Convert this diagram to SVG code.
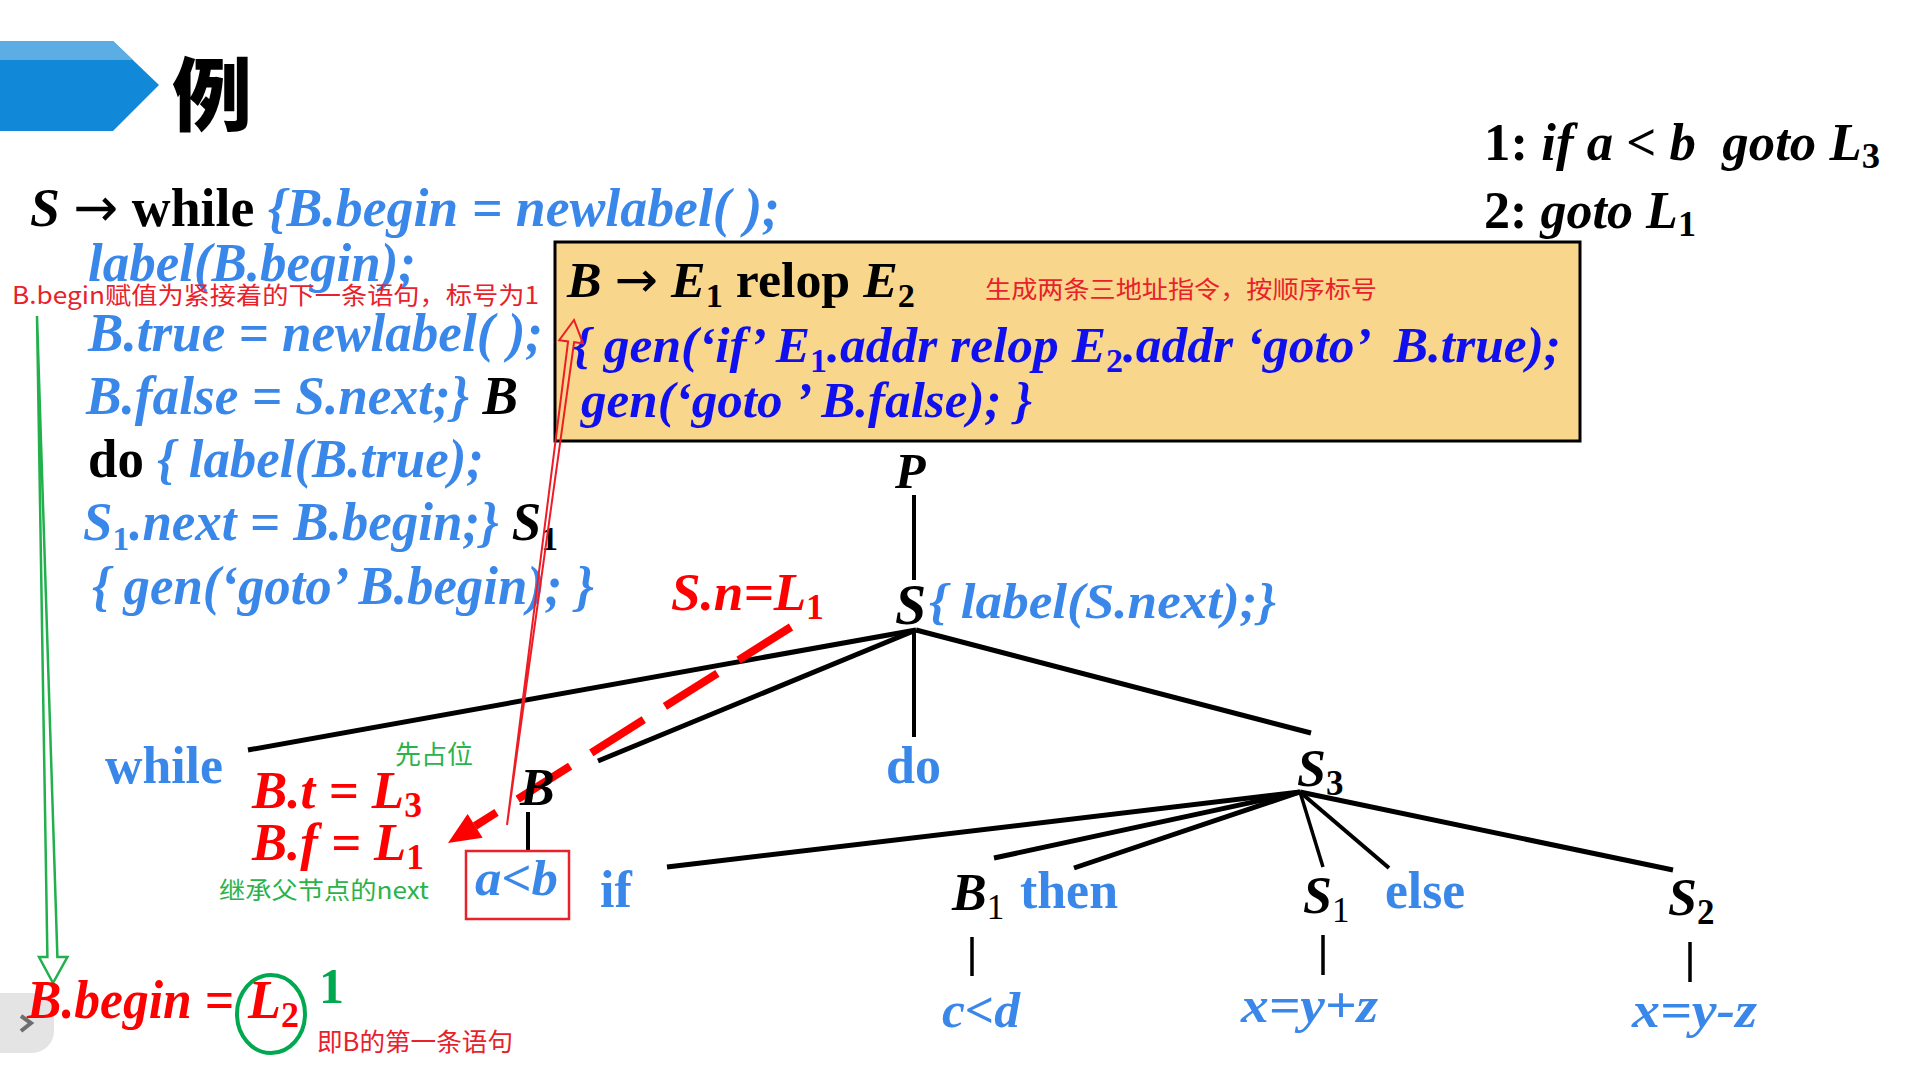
<svg xmlns="http://www.w3.org/2000/svg" width="1920" height="1080" viewBox="0 0 1920 1080">
<style>
.ser{font-family:"Liberation Serif","Times New Roman",serif;font-weight:bold;white-space:pre}
.it{font-style:italic}
.up{font-style:normal}
.arr{font-family:"DejaVu Sans",sans-serif;font-weight:normal;font-style:normal}
.lb{fill:#3A87EA}
.db{fill:#1010EE}
.bk{fill:#000}
.rd{fill:#FF0000}
.cjk{font-family:"Noto Sans CJK SC","Noto Sans",sans-serif;white-space:pre}
.note-r{fill:#E8212B}
.note-g{fill:#2BB34A}
.edge{stroke:#000;stroke-linecap:butt;fill:none}
</style>
<rect width="1920" height="1080" fill="#fff"/>
<g id="nav">
<rect x="-30" y="993" width="84" height="60" rx="22" fill="#E4E4E4"/>
<polyline points="21,1016 31,1023 21,1031" fill="none" stroke="#6E6E6E" stroke-width="4"/>
</g>
<g id="header">
<polygon points="0,41 113,41 159,85 113,131 0,131" fill="#1289D8"/>
<polygon points="0,41 113,41 133,60 0,60" fill="#5BADE3"/>
<text x="172" y="124" class="cjk" font-size="80" font-weight="900" fill="#000">例</text>
</g>
<g id="code" class="ser" font-size="54">
<text x="30" y="226" textLength="750" lengthAdjust="spacingAndGlyphs" class="ser bk"><tspan class="it">S</tspan> <tspan class="arr">→</tspan> while <tspan class="it lb">{B.begin = newlabel( );</tspan></text>
<text x="88" y="281" textLength="328" lengthAdjust="spacingAndGlyphs" class="ser it lb">label(B.begin);</text>
<text x="88" y="351" textLength="455" lengthAdjust="spacingAndGlyphs" class="ser it lb">B.true = newlabel( );</text>
<text x="86" y="414" textLength="432" lengthAdjust="spacingAndGlyphs" class="ser it lb">B.false = S.next;} <tspan class="bk">B</tspan></text>
<text x="88" y="477" textLength="396" lengthAdjust="spacingAndGlyphs" class="ser"><tspan class="up bk">do</tspan><tspan class="it lb"> { label(B.true);</tspan></text>
<text x="83" y="540" textLength="475" lengthAdjust="spacingAndGlyphs" class="ser it lb">S<tspan class="up" font-size="34" dy="10">1</tspan><tspan dy="-10">.next = B.begin;} </tspan><tspan class="bk">S</tspan><tspan class="up bk" font-size="34" dy="10">1</tspan></text>
<text x="92" y="604" textLength="502" lengthAdjust="spacingAndGlyphs" class="ser it lb">{ gen(‘goto’ B.begin); }</text>
<text x="12" y="304" textLength="527" lengthAdjust="spacingAndGlyphs" class="cjk note-r" font-size="24" font-weight="normal">B.begin赋值为紧接着的下一条语句，标号为1</text>
</g>
<g id="rule-box">
<rect x="555" y="242" width="1025" height="199" fill="#F8D68C" stroke="#000" stroke-width="3"/>
<text x="567" y="297" textLength="348" lengthAdjust="spacingAndGlyphs" class="ser bk" font-size="50"><tspan class="it">B</tspan> <tspan class="arr">→</tspan> <tspan class="it">E</tspan><tspan font-size="33" dy="10">1</tspan><tspan dy="-10"> relop </tspan><tspan class="it">E</tspan><tspan font-size="33" dy="10">2</tspan></text>
<text x="985" y="298" textLength="392" lengthAdjust="spacingAndGlyphs" class="cjk note-r" font-size="24">生成两条三地址指令，按顺序标号</text>
<text x="573" y="362" textLength="988" lengthAdjust="spacingAndGlyphs" class="ser it db" font-size="50">{ gen(‘if’ E<tspan class="up" font-size="33" dy="10">1</tspan><tspan dy="-10">.addr relop E</tspan><tspan class="up" font-size="33" dy="10">2</tspan><tspan dy="-10">.addr ‘goto’  B.true);</tspan></text>
<text x="581" y="417" textLength="451" lengthAdjust="spacingAndGlyphs" class="ser it db" font-size="50">gen(‘goto ’ B.false); }</text>
</g>
<g id="tac">
<text x="1484" y="160" textLength="396" lengthAdjust="spacingAndGlyphs" class="ser bk" font-size="52">1: <tspan class="it">if a &lt; b  goto L</tspan><tspan font-size="36" dy="8">3</tspan></text>
<text x="1484" y="228" textLength="212" lengthAdjust="spacingAndGlyphs" class="ser bk" font-size="52">2: <tspan class="it">goto L</tspan><tspan font-size="36" dy="8">1</tspan></text>
</g>
<g id="connectors">
<line class="edge" x1="914" y1="495" x2="914" y2="580" stroke-width="4"/>
<line class="edge" x1="916" y1="630" x2="248" y2="750" stroke-width="5"/>
<line class="edge" x1="916" y1="630" x2="598" y2="761" stroke-width="5"/>
<line class="edge" x1="914" y1="630" x2="914" y2="737" stroke-width="4"/>
<line class="edge" x1="916" y1="630" x2="1311" y2="733" stroke-width="5"/>
<line class="edge" x1="528" y1="812" x2="528" y2="851" stroke-width="4"/>
<line class="edge" x1="1300" y1="792" x2="667" y2="867" stroke-width="5"/>
<line class="edge" x1="1300" y1="792" x2="994" y2="858" stroke-width="5"/>
<line class="edge" x1="1300" y1="792" x2="1074" y2="868" stroke-width="5"/>
<line class="edge" x1="1300" y1="792" x2="1323" y2="867" stroke-width="3.5"/>
<line class="edge" x1="1300" y1="792" x2="1389" y2="868" stroke-width="4"/>
<line class="edge" x1="1300" y1="792" x2="1673" y2="870" stroke-width="5"/>
<line class="edge" x1="972" y1="937" x2="972" y2="976" stroke-width="3.5"/>
<line class="edge" x1="1323" y1="935" x2="1323" y2="975" stroke-width="3.5"/>
<line class="edge" x1="1690" y1="942" x2="1690" y2="982" stroke-width="3.5"/>
<line x1="791" y1="627" x2="475" y2="826" stroke="#FF0000" stroke-width="8" stroke-dasharray="62 25"/>
<polygon points="448,843 482.6,837.8 467.6,814" fill="#FF0000"/>
<polygon points="507,825 574.1,342.2 583,343.4 574,320 559.2,340.2 568.1,341.4" fill="none" stroke="#EE1C25" stroke-width="2"/>
<polygon points="37,316 57.4,957 67.4,957 53,983 39,957 47.4,957" fill="none" stroke="#22B04C" stroke-width="2.5"/>
</g>
<g id="node-P"><text x="895" y="488" class="ser it bk" font-size="50">P</text></g>
<g id="node-S"><text x="895" y="624" class="ser it bk" font-size="56">S</text><text x="929" y="618" textLength="347" lengthAdjust="spacingAndGlyphs" class="ser it lb" font-size="50">{ label(S.next);}</text></g>
<g id="node-while"><text x="105" y="783" textLength="118" lengthAdjust="spacingAndGlyphs" class="ser lb" font-size="52">while</text></g>
<g id="node-B"><text x="520" y="805" class="ser it bk" font-size="52">B</text></g>
<g id="node-ab"><rect x="466" y="851" width="103" height="68" fill="none" stroke="#E8212B" stroke-width="2.5"/><text x="475" y="895" textLength="83" lengthAdjust="spacingAndGlyphs" class="ser it lb" font-size="50">a&lt;b</text></g>
<g id="node-if"><text x="600" y="907" class="ser lb" font-size="52">if</text></g>
<g id="node-do"><text x="886" y="783" class="ser lb" font-size="52">do</text></g>
<g id="node-S3"><text x="1297" y="786" class="ser it bk" font-size="52">S<tspan class="up" font-size="35" dy="9">3</tspan></text></g>
<g id="node-B1"><text x="952" y="910" class="ser it bk" font-size="52">B<tspan class="up" font-size="35" dy="9" font-weight="normal">1</tspan></text></g>
<g id="node-then"><text x="1020" y="908" textLength="98" lengthAdjust="spacingAndGlyphs" class="ser lb" font-size="52">then</text></g>
<g id="node-S1"><text x="1303" y="913" class="ser it bk" font-size="52">S<tspan class="up" font-size="35" dy="9" font-weight="normal">1</tspan></text></g>
<g id="node-else"><text x="1385" y="908" textLength="80" lengthAdjust="spacingAndGlyphs" class="ser lb" font-size="52">else</text></g>
<g id="node-S2"><text x="1668" y="915" class="ser it bk" font-size="52">S<tspan class="up" font-size="35" dy="9">2</tspan></text></g>
<g id="node-cd"><text x="942" y="1027" textLength="78" lengthAdjust="spacingAndGlyphs" class="ser it lb" font-size="50">c&lt;d</text></g>
<g id="node-xyz1"><text x="1241" y="1022" textLength="137" lengthAdjust="spacingAndGlyphs" class="ser it lb" font-size="50">x=y+z</text></g>
<g id="node-xyz2"><text x="1632" y="1027" textLength="125" lengthAdjust="spacingAndGlyphs" class="ser it lb" font-size="50">x=y-z</text></g>
<g id="annotations">
<text x="671" y="610" textLength="153" lengthAdjust="spacingAndGlyphs" class="ser it rd" font-size="52">S.n=L<tspan class="up" font-size="35" dy="9">1</tspan></text>
<text x="252" y="808" textLength="170" lengthAdjust="spacingAndGlyphs" class="ser it rd" font-size="52">B.t = L<tspan class="up" font-size="35" dy="9">3</tspan></text>
<text x="252" y="860" textLength="172" lengthAdjust="spacingAndGlyphs" class="ser it rd" font-size="52">B.f = L<tspan class="up" font-size="35" dy="9">1</tspan></text>
<text x="395" y="764" textLength="78" lengthAdjust="spacingAndGlyphs" class="cjk note-g" font-size="26">先占位</text>
<text x="219" y="899" textLength="210" lengthAdjust="spacingAndGlyphs" class="cjk note-g" font-size="24">继承父节点的next</text>
<text x="27" y="1018" textLength="207" lengthAdjust="spacingAndGlyphs" class="ser it rd" font-size="54">B.begin =</text>
<text x="248" y="1018" textLength="51" lengthAdjust="spacingAndGlyphs" class="ser it rd" font-size="54">L<tspan class="up" font-size="36" dy="9">2</tspan></text>
<ellipse cx="271" cy="1014" rx="34" ry="39" fill="none" stroke="#00A84F" stroke-width="4"/>
<text x="319" y="1003" class="ser" font-size="50" fill="#00A84F">1</text>
<text x="317" y="1051" textLength="196" lengthAdjust="spacingAndGlyphs" class="cjk note-r" font-size="25">即B的第一条语句</text>
</g>
</svg>
